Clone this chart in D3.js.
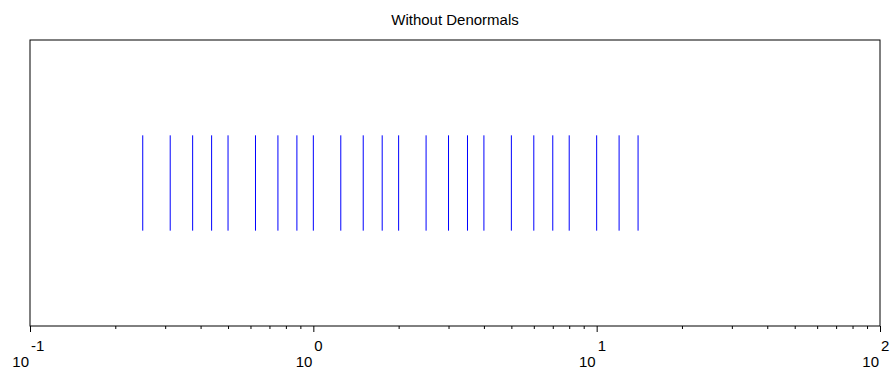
<!DOCTYPE html>
<html><head><meta charset="utf-8">
<script src="https://cdn.jsdelivr.net/npm/d3@7"></script>
<style>body{margin:0;background:#fff}svg{display:block}text{font-family:"Liberation Sans",Arial,sans-serif}</style>
</head><body>
<svg id="c" width="893" height="374"></svg>
<script>
const title = "Without Denormals";
const values = [0.25, 0.3125, 0.375, 0.4375, 0.5, 0.625, 0.75, 0.875, 1, 1.25, 1.5, 1.75, 2, 2.5, 3, 3.5, 4, 5, 6, 7, 8, 10, 12, 14];
const majorTicks = [0.1, 1, 10, 100];
const tickExponents = ["-1", "0", "1", "2"];
const xDomain = [0.1, 100];
const yDomain = [-1.5, 1.5];
const lineExtent = [-0.5, 0.5];

const svg = d3.select("#c");
const L = 30, R = 880, T = 40, B = 326;
const x = d3.scaleLog().domain(xDomain).range([L, R]);
const y = d3.scaleLinear().domain(yDomain).range([B, T]);

// minor ticks
const minors = [];
for (let e = -1; e < 2; e++) for (let m = 2; m <= 9; m++) minors.push(m * Math.pow(10, e));

const axis = d3.axisBottom(x).tickValues(minors).tickSize(3).tickFormat("");
const gMin = svg.append("g").attr("transform", `translate(0,${B})`).call(axis);
gMin.select(".domain").remove();
gMin.selectAll("line").attr("stroke", "#000");
const axisM = d3.axisBottom(x).tickValues(majorTicks).tickSize(6).tickFormat("");
const gMaj = svg.append("g").attr("transform", `translate(0,${B})`).call(axisM);
gMaj.select(".domain").remove();
gMaj.selectAll("line").attr("stroke", "#000");

// box
svg.append("rect").attr("x", L).attr("y", T).attr("width", R - L).attr("height", B - T)
  .attr("fill", "none").attr("stroke", "#000").attr("stroke-width", 1);

// labels
majorTicks.forEach((v, i) => {
  svg.append("text").attr("x", x(v) - 1).attr("y", 367).attr("text-anchor", "end")
    .attr("font-size", 15).text("10");
  svg.append("text").attr("x", x(v) + 1).attr("y", 351).attr("text-anchor", "start")
    .attr("font-size", 15).text(tickExponents[i]);
});

// lines
svg.append("g").selectAll("line").data(values).join("line")
  .attr("x1", d => x(d)).attr("x2", d => x(d))
  .attr("y1", y(lineExtent[0])).attr("y2", y(lineExtent[1]))
  .attr("stroke", "#0000ff").attr("stroke-width", 1);

svg.append("text").attr("x", (L + R) / 2).attr("y", 25).attr("text-anchor", "middle")
  .attr("font-size", 15).text(title);
</script>
</body></html>
